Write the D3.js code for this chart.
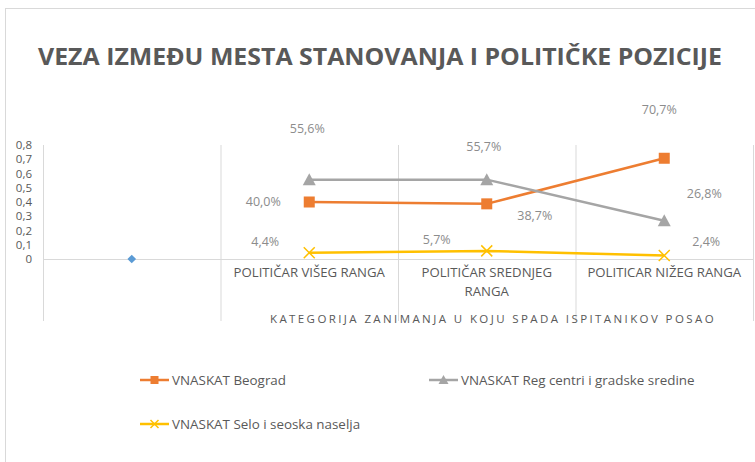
<!DOCTYPE html>
<html lang="sr">
  <head>
    <meta charset="UTF-8" />
    <title>veza-mesto-pozicija</title>
    <style>
      body { margin: 0; background: #fff; }
      text { font-family: "Open Sans", "Noto Sans", sans-serif; }
    </style>
  </head>
  <body>
    <svg width="755" height="462" id="svg"></svg>
    <script src="https://cdnjs.cloudflare.com/ajax/libs/d3/7.8.5/d3.min.js"></script>
    <script>
      // podaci
      const categories = ["", "POLITIČAR VIŠEG RANGA", "POLITIČAR SREDNJEG RANGA", "POLITICAR NIŽEG RANGA"];
      const catLines = [[""], ["POLITIČAR VIŠEG RANGA"], ["POLITIČAR SREDNJEG", "RANGA"], ["POLITICAR NIŽEG RANGA"]];
      const beograd = [null, 0.400, 0.387, 0.707];
      const regCentri = [null, 0.556, 0.557, 0.268];
      const selo = [null, 0.044, 0.057, 0.024];
      const prazno = [0, null, null, null]; // plavi romb bez legende
      const yTicks = [0, 0.1, 0.2, 0.3, 0.4, 0.5, 0.6, 0.7, 0.8];
      const seriesNames = ["VNASKAT Beograd", "VNASKAT Reg centri i gradske sredine", "VNASKAT Selo i seoska naselja"];

      const svg = d3.select("#svg");

      // okvir grafikona
      svg.append("rect")
        .attr("x", 5.5).attr("y", 8.5)
        .attr("width", 770).attr("height", 470)
        .attr("fill", "#fff").attr("stroke", "#d9d9d9");

      svg.append("text")
        .attr("x", 380).attr("y", 65)
        .attr("text-anchor", "middle")
        .attr("font-size", 23).attr("font-weight", "bold")
        .attr("fill", "#595959")
        .attr("textLength", 684).attr("lengthAdjust", "spacingAndGlyphs")
        .text("VEZA IZMEĐU MESTA STANOVANJA I POLITIČKE POZICIJE");

      const x = d3.scaleBand().domain(d3.range(categories.length)).range([43, 753]).padding(0);
      const y = d3.scaleLinear().domain([0, 0.8]).range([259, 145]);
      const cx = (i) => x(i) + x.bandwidth() / 2;

      // vertikalne linije kategorija
      svg.selectAll("line.div")
        .data(d3.range(categories.length + 1))
        .join("line")
        .attr("class", "div")
        .attr("x1", (d) => 43 + d * x.bandwidth() + 0.5)
        .attr("x2", (d) => 43 + d * x.bandwidth() + 0.5)
        .attr("y1", 145).attr("y2", 321)
        .attr("stroke", "#d9d9d9");

      // osa na nuli
      svg.append("line")
        .attr("x1", 43).attr("x2", 753)
        .attr("y1", Math.round(y(0)) + 0.5).attr("y2", Math.round(y(0)) + 0.5)
        .attr("stroke", "#d9d9d9");

      // y oznake
      const yAxis = d3.axisLeft(y).tickValues(yTicks).tickSize(0).tickPadding(0)
        .tickFormat((d) => d === 0 ? "0" : d3.format(".1f")(d).replace(".", ","));
      const ya = svg.append("g").attr("transform", "translate(32,0)").call(yAxis);
      ya.select(".domain").remove();
      ya.selectAll("text").attr("font-size", 11.5).attr("fill", "#595959")
        .attr("font-family", "'Open Sans', sans-serif");

      // nazivi kategorija
      const cl = svg.selectAll("text.cat")
        .data(catLines)
        .join("text")
        .attr("class", "cat")
        .attr("text-anchor", "middle")
        .attr("font-size", 13.2)
        .attr("fill", "#595959");
      cl.each(function (lines, i) {
        d3.select(this).selectAll("tspan")
          .data(lines)
          .join("tspan")
          .attr("x", cx(i))
          .attr("y", (d, j) => 277 + j * 19)
          .text((d) => d);
      });

      svg.append("text")
        .attr("x", 493).attr("y", 323)
        .attr("text-anchor", "middle")
        .attr("font-size", 11.5)
        .attr("letter-spacing", 2.4)
        .attr("fill", "#595959")
        .text("KATEGORIJA ZANIMANJA U KOJU SPADA ISPITANIKOV POSAO");

      const colors = ["#ED7D31", "#A5A5A5", "#FFC000"];
      const allSeries = [beograd, regCentri, selo];
      const line = d3.line().defined((d) => d != null).x((d, i) => cx(i)).y((d) => y(d));

      allSeries.forEach((s, k) => {
        svg.append("path")
          .attr("d", line(s))
          .attr("fill", "none")
          .attr("stroke", colors[k])
          .attr("stroke-width", 2.5);
      });

      function marker(g, k, px, py, sz) {
        if (k === 0) {
          g.append("rect").attr("x", px - sz / 2).attr("y", py - sz / 2)
            .attr("width", sz).attr("height", sz).attr("fill", colors[0]);
        } else if (k === 1) {
          const h = sz;
          g.append("path")
            .attr("d", `M${px},${py - h / 2 - 1}L${px + h / 2 + 1},${py + h / 2}L${px - h / 2 - 1},${py + h / 2}Z`)
            .attr("fill", colors[1]);
        } else {
          const r = sz / 2;
          g.append("path")
            .attr("d", `M${px - r},${py - r}L${px + r},${py + r}M${px + r},${py - r}L${px - r},${py + r}`)
            .attr("stroke", colors[2]).attr("stroke-width", 1.5).attr("fill", "none");
        }
      }

      const mg = svg.append("g");
      allSeries.forEach((s, k) => {
        s.forEach((v, i) => {
          if (v != null) marker(mg, k, cx(i), y(v), 11);
        });
      });

      // plavi romb
      prazno.forEach((v, i) => {
        if (v == null) return;
        svg.append("path")
          .attr("d", d3.symbol().type(d3.symbolDiamond2).size(48)())
          .attr("transform", `translate(${cx(i)},${y(v)})`)
          .attr("fill", "#5B9BD5");
      });

      // oznake podataka (pomeraji kao u originalu)
      const labelOffsets = [
        [null, [-46, 0], [48, 12], [-5, -49]],
        [null, [-2, -51], [-3, -33], [40, -27]],
        [null, [-44, -11], [-50, -11], [42, -14]],
      ];
      const pct = (v) => d3.format(".1f")(v * 100).replace(".", ",") + "%";
      allSeries.forEach((s, k) => {
        s.forEach((v, i) => {
          if (v == null) return;
          const o = labelOffsets[k][i];
          svg.append("text")
            .attr("x", cx(i) + o[0]).attr("y", y(v) + o[1])
            .attr("dy", "0.35em")
            .attr("text-anchor", "middle")
            .attr("font-size", 12.5)
            .attr("fill", "#8c8c8c")
            .text(pct(v));
        });
      });

      // legenda
      const legendPos = [[140, 380], [429, 380], [140, 424]];
      seriesNames.forEach((n, k) => {
        const [lx, ly] = legendPos[k];
        const g = svg.append("g");
        g.append("line").attr("x1", lx).attr("x2", lx + 29).attr("y1", ly).attr("y2", ly)
          .attr("stroke", colors[k]).attr("stroke-width", 2.5);
        marker(g, k, lx + 14.5, ly, 8);
        g.append("text").attr("x", lx + 32).attr("y", ly).attr("dy", "0.35em")
          .attr("font-size", 13.4).attr("fill", "#595959")
          .text(n);
      });
    </script>
  </body>
</html>
